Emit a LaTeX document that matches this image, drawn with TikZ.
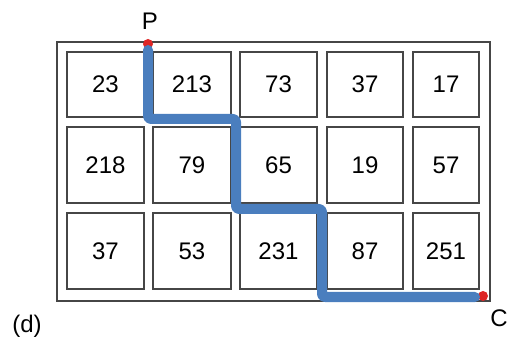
\documentclass[tikz,border=0pt]{standalone}
\usepackage{fontspec}
\setmainfont{Liberation Sans}
\definecolor{pathblue}{RGB}{74,126,190}
\definecolor{dotred}{RGB}{222,38,38}
\definecolor{gridgray}{RGB}{70,70,70}
\begin{document}
\begin{tikzpicture}[x=1pt,y=-1pt,
  cell/.style={draw=gridgray,line width=1.5pt,inner sep=0pt,font=\fontsize{24}{26}\selectfont},
  frame/.style={draw=gridgray,line width=1.3pt},
  route/.style={draw=pathblue,line width=10pt,line cap=round,line join=round,rounded corners=3pt},
  enddot/.style={circle,fill=dotred,inner sep=0pt,minimum size=10pt},
  lbl/.style={font=\fontsize{24}{26}\selectfont,inner sep=0pt}]
\useasboundingbox (0,0) rectangle (508,344);
\draw[frame] (57,42) rectangle (490,301);
% row 1
\node[cell,minimum width=77pt,minimum height=65pt] (c11) at (105.5,84.5) {23};
\node[cell,minimum width=78pt,minimum height=65pt] (c12) at (192,84.5) {213};
\node[cell,minimum width=77pt,minimum height=65pt] (c13) at (278.5,84.5) {73};
\node[cell,minimum width=76pt,minimum height=65pt] (c14) at (365,84.5) {37};
\node[cell,minimum width=66pt,minimum height=65pt] (c15) at (446,84.5) {17};
% row 2
\node[cell,minimum width=77pt,minimum height=76pt] (c21) at (105.5,165) {218};
\node[cell,minimum width=78pt,minimum height=76pt] (c22) at (192,165) {79};
\node[cell,minimum width=77pt,minimum height=76pt] (c23) at (278.5,165) {65};
\node[cell,minimum width=76pt,minimum height=76pt] (c24) at (365,165) {19};
\node[cell,minimum width=66pt,minimum height=76pt] (c25) at (446,165) {57};
% row 3
\node[cell,minimum width=77pt,minimum height=76pt] (c31) at (105.5,251) {37};
\node[cell,minimum width=78pt,minimum height=76pt] (c32) at (192,251) {53};
\node[cell,minimum width=77pt,minimum height=76pt] (c33) at (278.5,251) {231};
\node[cell,minimum width=76pt,minimum height=76pt] (c34) at (365,251) {87};
\node[cell,minimum width=66pt,minimum height=76pt] (c35) at (446,251) {251};
% path
\coordinate (P) at (148,44);
\coordinate (C) at (483,296);
\coordinate (t0) at (148,50);
\coordinate (t1) at (148,119);
\coordinate (t2) at (236,119);
\coordinate (t3) at (236,209);
\coordinate (t4) at (322,209);
\coordinate (t5) at (322,297);
\coordinate (t6) at (475,297);
\node[enddot] (Pdot) at (P) {};
\node[enddot] (Cdot) at (C) {};
\draw[route] (t0) -- (t1) -- (t2) -- (t3) -- (t4) -- (t5) -- (t6);
\node[lbl] (Plabel) at (150,21) {P};
\node[lbl] (Clabel) at (499,318) {C};
\node[lbl] (dlabel) at (27,326) {(d)};
\end{tikzpicture}
\end{document}
